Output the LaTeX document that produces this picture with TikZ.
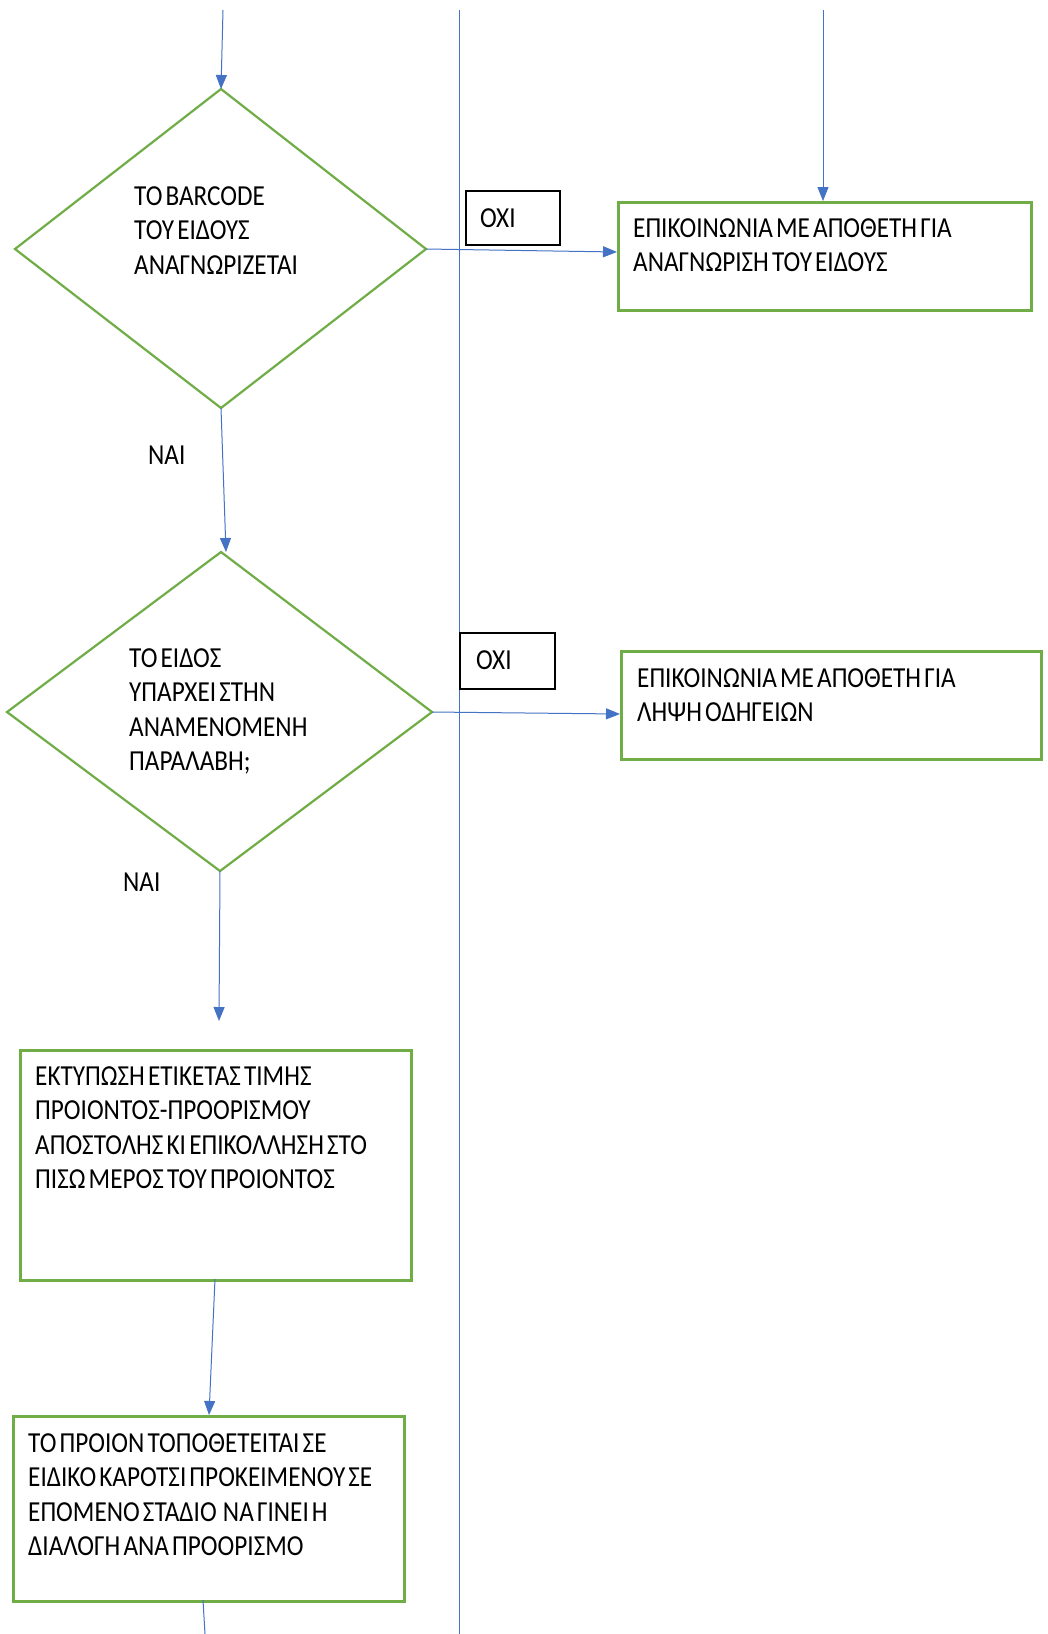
\documentclass[tikz,border=0pt]{standalone}
\usepackage{fontspec}
\setmainfont{Carlito}[FakeStretch=0.87,WordSpace=0.55]
\usetikzlibrary{arrows.meta}
\definecolor{boxgreen}{RGB}{112,173,71}
\definecolor{lineblue}{RGB}{68,114,196}
\tikzset{
  flow/.style={draw=lineblue, line width=1pt, -{Triangle[length=14pt,width=11pt]}},
  plainflow/.style={draw=lineblue, line width=1pt},
  greenbox/.style={draw=boxgreen, line width=2.5pt, anchor=north west, inner sep=0pt},
  oxibox/.style={draw=black, line width=2pt, anchor=north west, inner sep=0pt},
  txt/.style={anchor=north west, inner sep=0pt, align=left, font=\fontsize{29}{34.5}\selectfont},
  lane/.style={draw=lineblue, line width=0.8pt}
}
\begin{document}
\begin{tikzpicture}[x=1pt,y=-1pt]
\useasboundingbox[fill=white] (0,0) rectangle (1048,1634);
% lane line
\coordinate (laneT) at (459,10);
\coordinate (laneB) at (459,1634);
\draw[lane] (laneT) -- (laneB);
% diamond 1
\coordinate (d1t) at (221,89);
\coordinate (d1l) at (15,249);
\coordinate (d1r) at (426,249);
\coordinate (d1b) at (221,408);
\draw[draw=boxgreen, line width=2.2pt, line join=miter] (d1t) -- (d1r) -- (d1b) -- (d1l) -- cycle;
\node[txt] (d1txt) at (134,186) {ΤΟ BARCODE\\ΤΟΥ ΕΙΔΟΥΣ\\ΑΝΑΓΝΩΡΙΖΕΤΑΙ};
% diamond 2
\coordinate (d2t) at (221,552);
\coordinate (d2l) at (7,712);
\coordinate (d2r) at (432,712);
\coordinate (d2b) at (220,871);
\draw[draw=boxgreen, line width=2.2pt, line join=miter] (d2t) -- (d2r) -- (d2b) -- (d2l) -- cycle;
\node[txt] (d2txt) at (129,648) {ΤΟ ΕΙΔΟΣ\\ΥΠΑΡΧΕΙ ΣΤΗΝ\\ΑΝΑΜΕΝΟΜΕΝΗ\\ΠΑΡΑΛΑΒΗ;};
% right boxes
\node[greenbox, minimum width=413pt, minimum height=108pt] (b1) at (617,201) {};
\node[txt] (b1txt) at (633,218) {ΕΠΙΚΟΙΝΩΝΙΑ ΜΕ ΑΠΟΘΕΤΗ ΓΙΑ\\ΑΝΑΓΝΩΡΙΣΗ ΤΟΥ ΕΙΔΟΥΣ};
\node[greenbox, minimum width=420pt, minimum height=108pt] (b2) at (620,650) {};
\node[txt] (b2txt) at (637,668) {ΕΠΙΚΟΙΝΩΝΙΑ ΜΕ ΑΠΟΘΕΤΗ ΓΙΑ\\ΛΗΨΗ ΟΔΗΓΕΙΩΝ};
% OXI boxes
\node[oxibox, minimum width=94pt, minimum height=54pt] (o1) at (465,190) {};
\node[txt] (o1txt) at (480,208) {ΟΧΙ};
\node[oxibox, minimum width=95pt, minimum height=56pt] (o2) at (459,632) {};
\node[txt] (o2txt) at (476,650) {ΟΧΙ};
% NAI labels
\node[txt] (n1) at (148,446) {ΝΑΙ};
\node[txt] (n2) at (123,873) {ΝΑΙ};
% lower boxes
\node[greenbox, minimum width=391pt, minimum height=230pt] (b3) at (19,1049) {};
\node[txt] (b3txt) at (35,1066) {ΕΚΤΥΠΩΣΗ ΕΤΙΚΕΤΑΣ ΤΙΜΗΣ\\ΠΡΟΙΟΝΤΟΣ-ΠΡΟΟΡΙΣΜΟΥ\\ΑΠΟΣΤΟΛΗΣ ΚΙ ΕΠΙΚΟΛΛΗΣΗ ΣΤΟ\\ΠΙΣΩ ΜΕΡΟΣ ΤΟΥ ΠΡΟΙΟΝΤΟΣ};
\node[greenbox, minimum width=391pt, minimum height=185pt] (b4) at (12,1415) {};
\node[txt] (b4txt) at (28,1433) {ΤΟ ΠΡΟΙΟΝ ΤΟΠΟΘΕΤΕΙΤΑΙ ΣΕ\\ΕΙΔΙΚΟ ΚΑΡΟΤΣΙ ΠΡΟΚΕΙΜΕΝΟΥ ΣΕ\\ΕΠΟΜΕΝΟ ΣΤΑΔΙΟ\ \ ΝΑ ΓΙΝΕΙ Η\\ΔΙΑΛΟΓΗ ΑΝΑ ΠΡΟΟΡΙΣΜΟ};
% connectors
\coordinate (in1) at (223,10);
\coordinate (in2) at (823,10);
\coordinate (a3end) at (219,1021);
\coordinate (outB) at (205,1634);
\draw[flow] (in1) -- (d1t);
\draw[flow] (in2) -- (823,201);
\draw[flow] (d1r) -- (b1.west |- 0,252);
\draw[flow] (d1b) -- (226,552);
\draw[flow] (d2r) -- (b2.west |- 0,714);
\draw[flow] (d2b) -- (a3end);
\draw[flow] (215,1279) -- (209,1415);
\draw[plainflow] (203,1600) -- (outB);
\end{tikzpicture}
\end{document}
